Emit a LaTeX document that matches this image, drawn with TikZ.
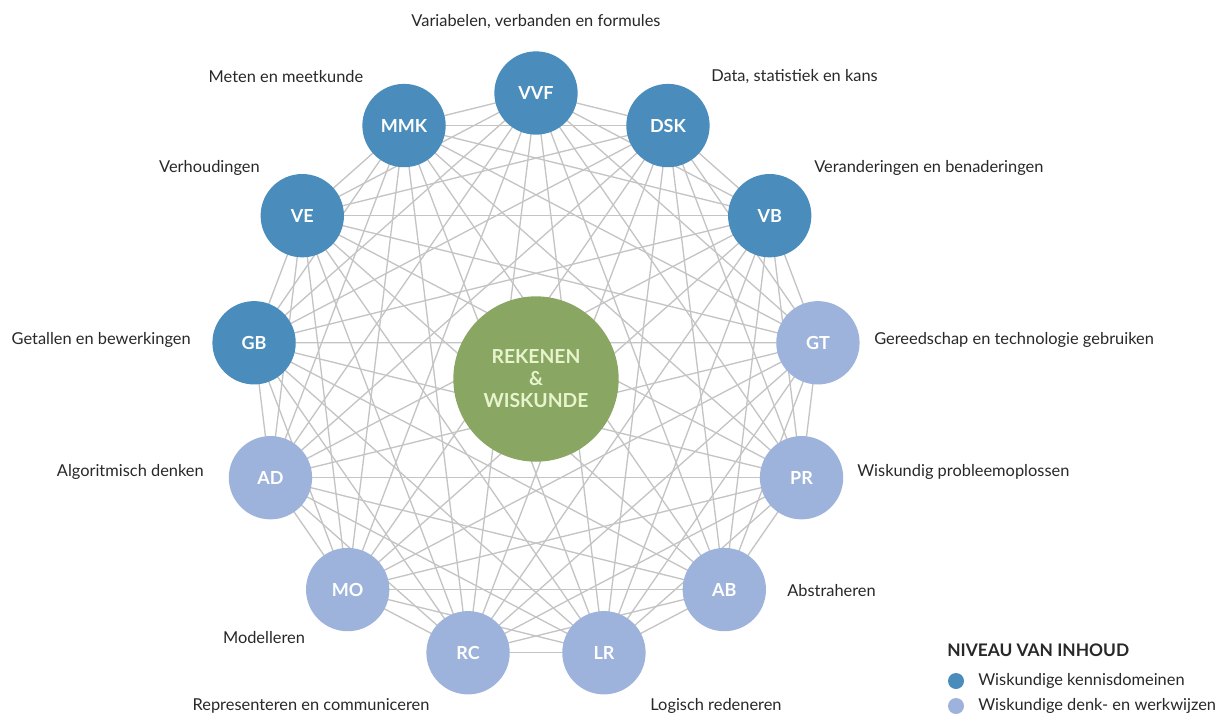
\documentclass[tikz,border=0pt]{standalone}
\usepackage{fontspec}
\setmainfont{Lato}
\usetikzlibrary{backgrounds}

\definecolor{domein}{RGB}{74,140,187}
\definecolor{denkwijze}{RGB}{157,179,219}
\definecolor{kern}{RGB}{137,166,98}
\definecolor{kerntekst}{RGB}{232,244,205}
\definecolor{lijn}{RGB}{196,196,196}
\definecolor{tekst}{RGB}{40,40,40}

\tikzset{every picture/.style={line width=0.75pt}}
\tikzset{
  bol/.style={circle, minimum size=62.5pt, inner sep=0pt, text=white,
    font=\fontsize{13.5}{16}\selectfont\bfseries},
  kennis/.style={bol, fill=domein},
  denken/.style={bol, fill=denkwijze},
  uitleg/.style={inner sep=0.75pt, text=tekst, font=\fontsize{12.3}{15}\selectfont},
  verbinding/.style={draw=lijn, line width=1pt}
}

\begin{document}
\begin{tikzpicture}[x=0.75pt,y=0.75pt,yscale=-1,xscale=1]
\useasboundingbox (0,0) rectangle (1218,715);

	% ring of 13 circles, starting at the top and going clockwise
	\foreach \naam/\stijl [count=\i] in {VVF/kennis,DSK/kennis,VB/kennis,GT/denken,PR/denken,AB/denken,LR/denken,RC/denken,MO/denken,AD/denken,GB/kennis,VE/kennis,MMK/kennis}
	  \node [\stijl] (\naam) at ({536+284*cos(90-(\i-1)*360/13)},{377-284*sin(90-(\i-1)*360/13)}) {\naam};

	% center circle
	\node [circle, minimum size=124pt, inner sep=0pt, fill=kern, text=kerntekst, align=center,
	  font=\fontsize{14.5}{16.5}\selectfont\bfseries] (RW) at (536,379) {REKENEN\\\&\\WISKUNDE};

	% every circle is connected to every other one
	\begin{pgfonlayer}{background}
	\foreach \a [count=\i] in {VVF,DSK,VB,GT,PR,AB,LR,RC,MO,AD,GB,VE,MMK}
	  \foreach \b [count=\j] in {VVF,DSK,VB,GT,PR,AB,LR,RC,MO,AD,GB,VE,MMK}
	    {\ifnum\j>\i \draw [verbinding] (\a.center) -- (\b.center); \fi}
	\end{pgfonlayer}

	% Text Node
	\node [uitleg] (tVVF) at (536,22) {Variabelen, verbanden en formules};
	% Text Node
	\node [uitleg] (tMMK) at (286,77) {Meten en meetkunde};
	% Text Node
	\node [uitleg, anchor=west] (tDSK) at (710,77) {Data, statistiek en kans};
	% Text Node
	\node [uitleg, anchor=east] (tVE) at (261,168) {Verhoudingen};
	% Text Node
	\node [uitleg, anchor=west] (tVB) at (813,168) {Veranderingen en benaderingen};
	% Text Node
	\node [uitleg, anchor=east] (tGB) at (192,340) {Getallen en bewerkingen};
	% Text Node
	\node [uitleg, anchor=west] (tGT) at (873,340) {Gereedschap en technologie gebruiken};
	% Text Node
	\node [uitleg, anchor=east] (tAD) at (205,472) {Algoritmisch denken};
	% Text Node
	\node [uitleg, anchor=west] (tPR) at (856,472) {Wiskundig probleemoplossen};
	% Text Node
	\node [uitleg] (tMO) at (264,638) {Modelleren};
	% Text Node
	\node [uitleg, anchor=west] (tAB) at (786,591) {Abstraheren};
	% Text Node
	\node [uitleg] (tRC) at (311,706) {Representeren en communiceren};
	% Text Node
	\node [uitleg] (tLR) at (716,706) {Logisch redeneren};

	% legend
	\node [uitleg, anchor=west, font=\fontsize{13}{15}\selectfont\bfseries] (legenda) at (946,650) {NIVEAU VAN INHOUD};
	\node [circle, fill=domein, minimum size=12pt, inner sep=0pt] (dot1) at (956,681) {};
	\node [uitleg, anchor=west] (leg1) at (977,681) {Wiskundige kennisdomeinen};
	\node [circle, fill=denkwijze, minimum size=12pt, inner sep=0pt] (dot2) at (956,706) {};
	\node [uitleg, anchor=west] (leg2) at (977,706) {Wiskundige denk- en werkwijzen};
\end{tikzpicture}
\end{document}
